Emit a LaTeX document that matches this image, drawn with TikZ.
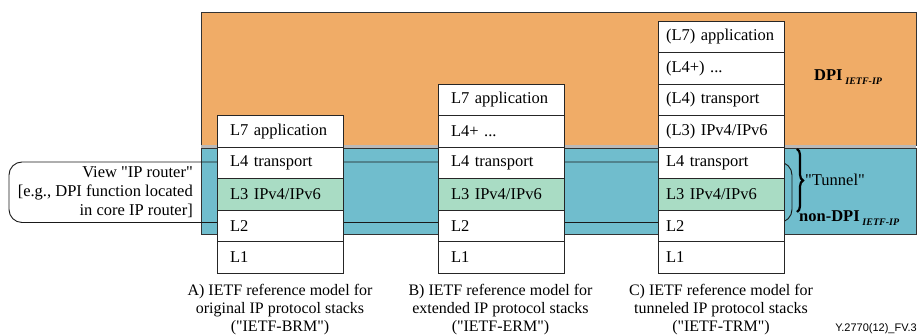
\documentclass[tikz,border=0pt]{standalone}
\usepackage{fontspec}
\setmainfont{Liberation Serif}[Ligatures=TeXOff]
\newfontfamily\arialfont{Liberation Sans}
\usetikzlibrary{decorations.pathreplacing}
\definecolor{dpiorange}{RGB}{240,172,103}
\definecolor{ndpiblue}{RGB}{112,189,205}
\definecolor{lthreegreen}{RGB}{169,220,196}
\definecolor{stripgray}{RGB}{185,185,185}
\begin{document}
\begin{tikzpicture}[x=1pt,y=-1pt,
  layer/.style={draw=black!85, line width=0.9pt, fill=white, minimum height=31.5pt,
    text width=100pt, inner xsep=13pt, inner ysep=0pt, outer sep=0pt, align=left,
    anchor=north west, font=\fontsize{16.5}{19}\selectfont},
  layerc/.style={layer, text width=110pt, inner xsep=8pt},
  green/.style={fill=lthreegreen},
  area/.style={draw=black!80, line width=0.8pt, inner sep=0pt, outer sep=0pt, anchor=north west},
  caption/.style={align=center, font=\fontsize{16}{18}\selectfont, inner sep=0pt},
  lbl/.style={inner sep=0pt, font=\fontsize{16.5}{19}\selectfont}]
\useasboundingbox (0,0) rectangle (919,336);

% background areas
\node[area, fill=dpiorange, minimum width=715pt, minimum height=133.5pt] (dpi) at (201,12) {};
\fill[stripgray] (201,145.5) rectangle (916,148);
\node[area, fill=ndpiblue, minimum width=715pt, minimum height=86pt] (ndpi) at (201,148) {};

% router view box
\node[draw=black!90, line width=0.9pt, rounded corners=13pt, minimum width=783pt,
  minimum height=60.5pt, inner sep=0pt, outer sep=0pt, anchor=north west] (router) at (9,162) {};

% stack A
\node[layer] (A7) at (217,115.5) {L7 application};
\node[layer] (A4) at (A7.south west) {L4 transport};
\node[layer, green] (A3) at (A4.south west) {L3 IPv4/IPv6};
\node[layer] (A2) at (A3.south west) {L2};
\node[layer] (A1) at (A2.south west) {L1};

% stack B
\node[layer] (B7) at (438,84) {L7 application};
\node[layer] (B5) at (B7.south west) {L4+ ...};
\node[layer] (B4) at (B5.south west) {L4 transport};
\node[layer, green] (B3) at (B4.south west) {L3 IPv4/IPv6};
\node[layer] (B2) at (B3.south west) {L2};
\node[layer] (B1) at (B2.south west) {L1};

% stack C
\node[layerc] (C7) at (658,21) {(L7) application};
\node[layerc] (C5) at (C7.south west) {(L4+) ...};
\node[layerc] (C4i) at (C5.south west) {(L4) transport};
\node[layerc] (C3i) at (C4i.south west) {(L3) IPv4/IPv6};
\node[layerc] (C4) at (C3i.south west) {L4 transport};
\node[layerc, green] (C3) at (C4.south west) {L3 IPv4/IPv6};
\node[layerc] (C2) at (C3.south west) {L2};
\node[layerc] (C1) at (C2.south west) {L1};

% tunnel brace
\coordinate (bt) at (797,149);
\coordinate (bb) at (797,212);
\draw[decorate, decoration={brace, amplitude=6pt}, line width=2.2pt] (bt) -- (bb);
\node[lbl, anchor=west] (tunnel) at (805,180) {"Tunnel"};

% area labels
\node[lbl, anchor=base west] (dpilbl) at (814,81)
  {\textbf{DPI}\,\raisebox{-0.5ex}{\fontsize{10}{10}\selectfont\bfseries\itshape IETF-IP}};
\node[lbl, anchor=base west] (ndpilbl) at (799,222)
  {\textbf{non-DPI}\,\raisebox{-0.5ex}{\fontsize{10}{10}\selectfont\bfseries\itshape IETF-IP}};

% router view text
\node[lbl, anchor=east, align=right] (viewtxt) at (193,192)
  {View "IP router"\\{[}e.g., DPI function located\\in core IP router{]}};

% captions
\node[caption] (capA) at (280,310) {A) IETF reference model for\\original IP protocol stacks\\("IETF-BRM")};
\node[caption] (capB) at (500.5,310) {B) IETF reference model for\\extended IP protocol stacks\\("IETF-ERM")};
\node[caption] (capC) at (721,310) {C) IETF reference model for\\tunneled IP protocol stacks\\("IETF-TRM")};

\node[inner sep=0pt, anchor=east, font=\arialfont\fontsize{11}{13}\selectfont] (figid) at (917,329) {Y.2770(12)\_FV.3};
\end{tikzpicture}
\end{document}
